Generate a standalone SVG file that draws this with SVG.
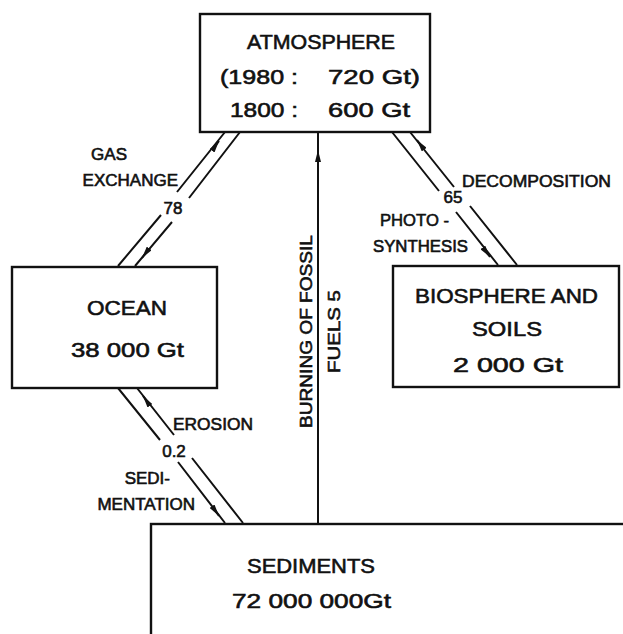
<svg xmlns="http://www.w3.org/2000/svg" width="623" height="634" viewBox="0 0 623 634">
<style>
.box{fill:#fff;stroke:#111;stroke-width:2.4}
.ln{fill:none;stroke:#111;stroke-width:2}
.t{font-family:"Liberation Sans",Arial,sans-serif;fill:#111;stroke:#111;stroke-width:0.6}
.bt{font-size:21px}
.lb{font-size:17px}
</style>
<defs>
<marker id="ah" viewBox="0 0 12 6" refX="12" refY="3" markerWidth="12" markerHeight="6" markerUnits="userSpaceOnUse" orient="auto">
<path d="M0,0 L12,3 L0,6 Z" fill="#111"/>
</marker>
</defs>
<rect width="623" height="634" fill="#fff"/>
<g id="connectors">
<path class="ln" d="M225,132 L177,192 M161,215 L118,266"/>
<path class="ln" d="M240,132 L189,198 M172,222 L135,266"/>
<path class="ln" d="M392,132 L439,191 M456,212 L498,265"/>
<path class="ln" d="M410,132 L454,187 M470,206 L517,265"/>
<path class="ln" d="M318,132 L318,524"/>
<path class="ln" d="M118,388 L160,440 M178,462 L225,523"/>
<path class="ln" d="M137,388 L174,435 M192,458 L243,523"/>
<line class="ln" x1="214" y1="148" x2="219" y2="141" marker-end="url(#ah)"/>
<line class="ln" x1="148" y1="250" x2="142" y2="258" marker-end="url(#ah)"/>
<line class="ln" x1="484" y1="249" x2="490" y2="257" marker-end="url(#ah)"/>
<line class="ln" x1="423" y1="148" x2="417" y2="140" marker-end="url(#ah)"/>
<line class="ln" x1="148" y1="403" x2="143" y2="396" marker-end="url(#ah)"/>
<line class="ln" x1="214" y1="509" x2="219" y2="516" marker-end="url(#ah)"/>
<line class="ln" x1="318" y1="160" x2="318" y2="150" marker-end="url(#ah)"/>
</g>
<g id="atmosphere">
<rect class="box" x="200" y="14" width="230" height="118"/>
<text class="t bt" x="247" y="49" textLength="148" lengthAdjust="spacingAndGlyphs">ATMOSPHERE</text>
<text class="t bt" x="220" y="84" textLength="78" lengthAdjust="spacingAndGlyphs">(1980 :</text>
<text class="t bt" x="328" y="84" textLength="92" lengthAdjust="spacingAndGlyphs">720  Gt)</text>
<text class="t bt" x="230" y="117" textLength="68" lengthAdjust="spacingAndGlyphs">1800 :</text>
<text class="t bt" x="328" y="117" textLength="82" lengthAdjust="spacingAndGlyphs">600  Gt</text>
</g>
<g id="ocean">
<rect class="box" x="12" y="267" width="205" height="121"/>
<text class="t bt" x="87" y="315" textLength="80" lengthAdjust="spacingAndGlyphs">OCEAN</text>
<text class="t bt" x="71" y="357" textLength="113" lengthAdjust="spacingAndGlyphs">38 000 Gt</text>
</g>
<g id="biosphere">
<rect class="box" x="393" y="266" width="226" height="121"/>
<text class="t bt" x="415" y="303" textLength="183" lengthAdjust="spacingAndGlyphs">BIOSPHERE AND</text>
<text class="t bt" x="472" y="336" textLength="70" lengthAdjust="spacingAndGlyphs">SOILS</text>
<text class="t bt" x="453" y="372" textLength="110" lengthAdjust="spacingAndGlyphs">2 000  Gt</text>
</g>
<g id="sediments">
<rect class="box" x="151" y="524" width="500" height="130"/>
<text class="t bt" x="247" y="573" textLength="128" lengthAdjust="spacingAndGlyphs">SEDIMENTS</text>
<text class="t bt" x="232" y="608" textLength="159" lengthAdjust="spacingAndGlyphs">72 000 000Gt</text>
</g>
<g id="labels">
<text class="t lb" x="127" y="160" text-anchor="end">GAS</text>
<text class="t lb" x="178" y="186" text-anchor="end">EXCHANGE</text>
<text class="t lb" x="173" y="214" text-anchor="middle">78</text>
<text class="t lb" x="462" y="187" textLength="149" lengthAdjust="spacingAndGlyphs">DECOMPOSITION</text>
<text class="t lb" x="453" y="203" text-anchor="middle">65</text>
<text class="t lb" x="380" y="226" textLength="69" lengthAdjust="spacingAndGlyphs">PHOTO -</text>
<text class="t lb" x="373" y="252" textLength="95" lengthAdjust="spacingAndGlyphs">SYNTHESIS</text>
<text class="t lb" x="173" y="430" textLength="80" lengthAdjust="spacingAndGlyphs">EROSION</text>
<text class="t lb" x="174" y="457" text-anchor="middle">0.2</text>
<text class="t lb" x="170" y="484" text-anchor="end">SEDI-</text>
<text class="t lb" x="195" y="510" text-anchor="end">MENTATION</text>
<text class="t lb" transform="translate(312,428) rotate(-90)" textLength="193" lengthAdjust="spacingAndGlyphs">BURNING OF FOSSIL</text>
<text class="t lb" transform="translate(340,373) rotate(-90)" textLength="83" lengthAdjust="spacingAndGlyphs">FUELS 5</text>
</g>
</svg>
